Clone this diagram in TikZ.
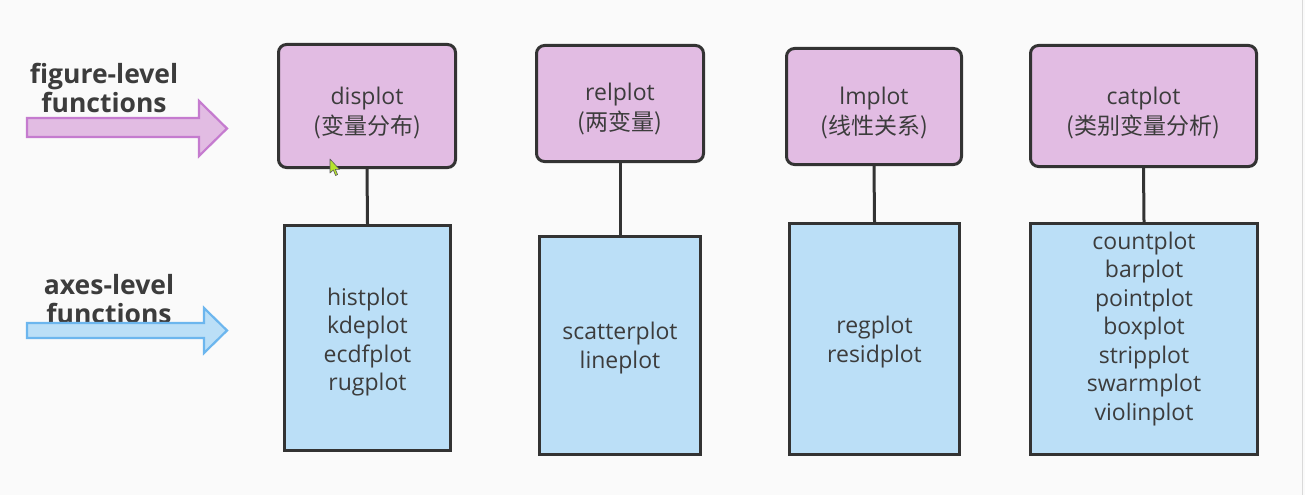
\documentclass[tikz,border=0pt]{standalone}
\usepackage{fontspec}
\setmainfont{Open Sans}
\newfontfamily\cjk{Noto Sans CJK SC}
\definecolor{bg}{HTML}{FAFAFA}
\definecolor{purpfill}{HTML}{E2BCE3}
\definecolor{purpline}{HTML}{C57BCF}
\definecolor{bluefill}{HTML}{BBDFF7}
\definecolor{blueline}{HTML}{6CB6EE}
\definecolor{boxline}{HTML}{333333}
\definecolor{txt}{HTML}{3C3C3C}
\definecolor{cursorfill}{HTML}{B5E32C}
\begin{document}
\begin{tikzpicture}[x=1pt,y=-1pt,
  fbox/.style={draw=boxline, line width=3pt, fill=purpfill, rounded corners=8pt, inner sep=0pt},
  abox/.style={draw=boxline, line width=3pt, fill=bluefill, inner sep=0pt},
  btext/.style={text=txt, align=center, font=\fontsize{23}{28.5}\selectfont, inner sep=0pt},
  ftext/.style={text=txt, align=center, font=\fontsize{23}{30}\selectfont, inner sep=0pt},
  lbl/.style={text=txt, align=center, font=\bfseries\fontsize{26.5}{29.5}\selectfont, inner sep=0pt},
  conn/.style={draw=boxline, line width=3pt},
  parrow/.style={draw=purpline, line width=2.2pt, fill=purpfill, line join=miter},
  barrow/.style={draw=blueline, line width=2.2pt, fill=bluefill, line join=miter}]
\fill[bg] (0,0) rectangle (1305,495);
\useasboundingbox (0,0) rectangle (1305,495);
\draw[gray!30, line width=1pt] (1302,0) -- (1302,495);

% left labels and arrows
\node[lbl] (figlbl) at (104,88) {figure-level\\functions};
\draw[parrow] (27,118) -- (199,118) -- (199,101) -- (227,128.5) -- (199,156) -- (199,137) -- (27,137) -- cycle;
\node[lbl] (axlbl) at (109,299) {axes-level\\functions};
\draw[barrow] (27,323) -- (204,323) -- (204,308) -- (227,330.5) -- (204,353) -- (204,338) -- (27,338) -- cycle;

% figure-level boxes
\node[fbox, minimum width=177pt, minimum height=123pt] (f1) at (367,106) {};
\node[fbox, minimum width=167pt, minimum height=116pt] (f2) at (620,103.5) {};
\node[fbox, minimum width=175pt, minimum height=116pt] (f3) at (874,106.5) {};
\node[fbox, minimum width=226pt, minimum height=121pt] (f4) at (1143.5,106) {};

% axes-level boxes
\node[abox, minimum width=166pt, minimum height=225pt] (a1) at (367.5,338) {};
\node[abox, minimum width=161pt, minimum height=218pt] (a2) at (620,345.5) {};
\node[abox, minimum width=170pt, minimum height=231pt] (a3) at (874.5,339) {};
\node[abox, minimum width=227pt, minimum height=231pt] (a4) at (1144,339) {};

% connectors
\draw[conn] (f1.south) -- (a1.north);
\draw[conn] (f2.south) -- (a2.north);
\draw[conn] (f3.south) -- (a3.north);
\draw[conn] (f4.south) -- (a4.north);

% texts
\node[ftext] (t1) at (367,113) {displot\\{\cjk(变量分布)}};
\node[ftext] (t2) at (620,109) {relplot\\{\cjk(两变量)}};
\node[ftext] (t3) at (874,113) {lmplot\\{\cjk(线性关系)}};
\node[ftext] (t4) at (1143.5,113) {catplot\\{\cjk(类别变量分析)}};

\node[btext] (s1) at (367.5,342) {histplot\\kdeplot\\ecdfplot\\rugplot};
\node[btext] (s2) at (620,348) {scatterplot\\lineplot};
\node[btext] (s3) at (874.5,342) {regplot\\residplot};
\node[btext] (s4) at (1144,329) {countplot\\barplot\\pointplot\\boxplot\\stripplot\\swarmplot\\violinplot};

% mouse cursor
\draw[fill=cursorfill, draw=boxline!80, line width=0.6pt, line join=round]
  (330,159) -- (330,173) -- (333.3,170) -- (335.6,175.5) -- (337.6,174.6) -- (335.4,169.4) -- (339.5,169.4) -- cycle;
\end{tikzpicture}
\end{document}
